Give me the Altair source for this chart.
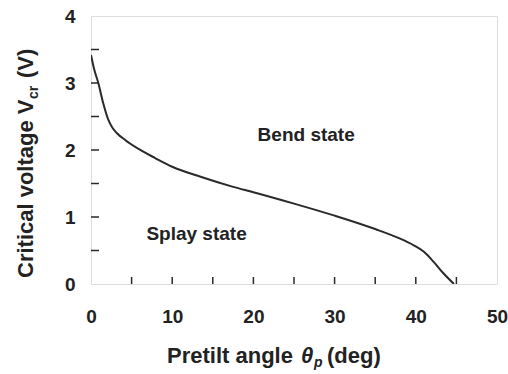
import altair as alt
import pandas as pd

# ---- data ----
theta = [0, 0.4, 0.9, 1.5, 2.1, 2.6, 3.2, 4.2, 5.8, 7.9, 10, 13.5, 17.5, 20, 25, 30, 35, 38, 39.7, 41, 42.2, 43.4, 44.7]
vcr = [3.42, 3.2, 3.0, 2.7, 2.46, 2.34, 2.25, 2.15, 2.02, 1.88, 1.75, 1.6, 1.45, 1.37, 1.2, 1.02, 0.82, 0.68, 0.58, 0.48, 0.33, 0.16, 0]

x_minor_ticks = [5, 10, 15, 20, 25, 30, 35, 40, 45]
y_minor_ticks = [0.5, 1.0, 1.5, 2.0, 2.5, 3.0, 3.5]
x_labels = [0, 10, 20, 30, 40, 50]
y_labels = [0, 1, 2, 3, 4]

ann_text = ["Bend state", "Splay state"]
ann_x = [26.5, 13.0]
ann_y = [2.22, 0.74]

x_title_parts = ["Pretilt angle ", "θ", "p", "(deg)"]
y_title_parts = ["Critical voltage V", "cr", "(V)"]

W, H = 406, 268
FONT = "Liberation Sans"
TXT = "#222222"
LINE = "#2a2a2a"

curve_df = pd.DataFrame({"theta": theta, "v": vcr})
xt_df = pd.DataFrame({"t": x_minor_ticks})
yt_df = pd.DataFrame({"t": y_minor_ticks})
ann_df = pd.DataFrame({"label": ann_text, "theta": ann_x, "v": ann_y})
one = pd.DataFrame({"a": [0]})

xscale = alt.Scale(domain=[0, 50], nice=False, zero=False)
yscale = alt.Scale(domain=[0, 4], nice=False, zero=False)

xaxis = alt.Axis(values=x_labels, format="d", ticks=False, domain=False, grid=False, title=None,
                 labelFont=FONT, labelFontSize=19, labelFontWeight="bold", labelColor=TXT,
                 labelPadding=23, tickSize=0, labelFlush=False)
yaxis = alt.Axis(values=y_labels, format="d", ticks=False, domain=False, grid=False, title=None,
                 labelFont=FONT, labelFontSize=19, labelFontWeight="bold", labelColor=TXT,
                 labelPadding=16, tickSize=0, labelFlush=False)

line = alt.Chart(curve_df).mark_line(color=LINE, strokeWidth=2, interpolate="monotone", clip=True).encode(
    x=alt.X("theta:Q", scale=xscale, axis=xaxis),
    y=alt.Y("v:Q", scale=yscale, axis=yaxis),
)

xticks = alt.Chart(xt_df).mark_rule(color=LINE, strokeWidth=1.5).encode(
    x=alt.X("t:Q", scale=xscale), y=alt.value(H), y2=alt.value(H - 7)
)
yticks = alt.Chart(yt_df).mark_rule(color=LINE, strokeWidth=1.5).encode(
    y=alt.Y("t:Q", scale=yscale), x=alt.value(0), x2=alt.value(8)
)

ann = alt.Chart(ann_df).mark_text(font=FONT, fontSize=19, fontWeight="bold", color=TXT,
                                  align="center", baseline="middle").encode(
    x=alt.X("theta:Q", scale=xscale), y=alt.Y("v:Q", scale=yscale), text="label:N"
)

def txt(s, x, y, size=22, style="normal", angle=0, baseline="alphabetic"):
    props = dict(text=s, font=FONT, fontSize=size, fontWeight="bold", fontStyle=style,
                 color=TXT, align="left", baseline=baseline)
    if angle:
        props["angle"] = angle
    return alt.Chart(one).mark_text(**props).encode(x=alt.value(x), y=alt.value(y))

xt1 = txt(x_title_parts[0], 76, 347)
xt2 = txt(x_title_parts[1], 210, 347, style="italic")
xt3 = txt(x_title_parts[2], 223, 351, size=14, style="italic")
xt4 = txt(x_title_parts[3], 236, 347)

yt1 = txt(y_title_parts[0], -58, 262, angle=270)
yt2 = txt(y_title_parts[1], -53, 83, size=14, angle=270)
yt3 = txt(y_title_parts[2], -58, 62, angle=270)

chart = alt.layer(line, xticks, yticks, ann, xt1, xt2, xt3, xt4, yt1, yt2, yt3).properties(
    width=W, height=H,
    autosize=alt.AutoSizeParams(type="none"),
    padding={"left": 91, "top": 16, "right": 11, "bottom": 90},
).configure_view(stroke=LINE, strokeWidth=2).configure(background="white")

chart.save("out.html", embed_options={"renderer": "svg", "actions": False})
